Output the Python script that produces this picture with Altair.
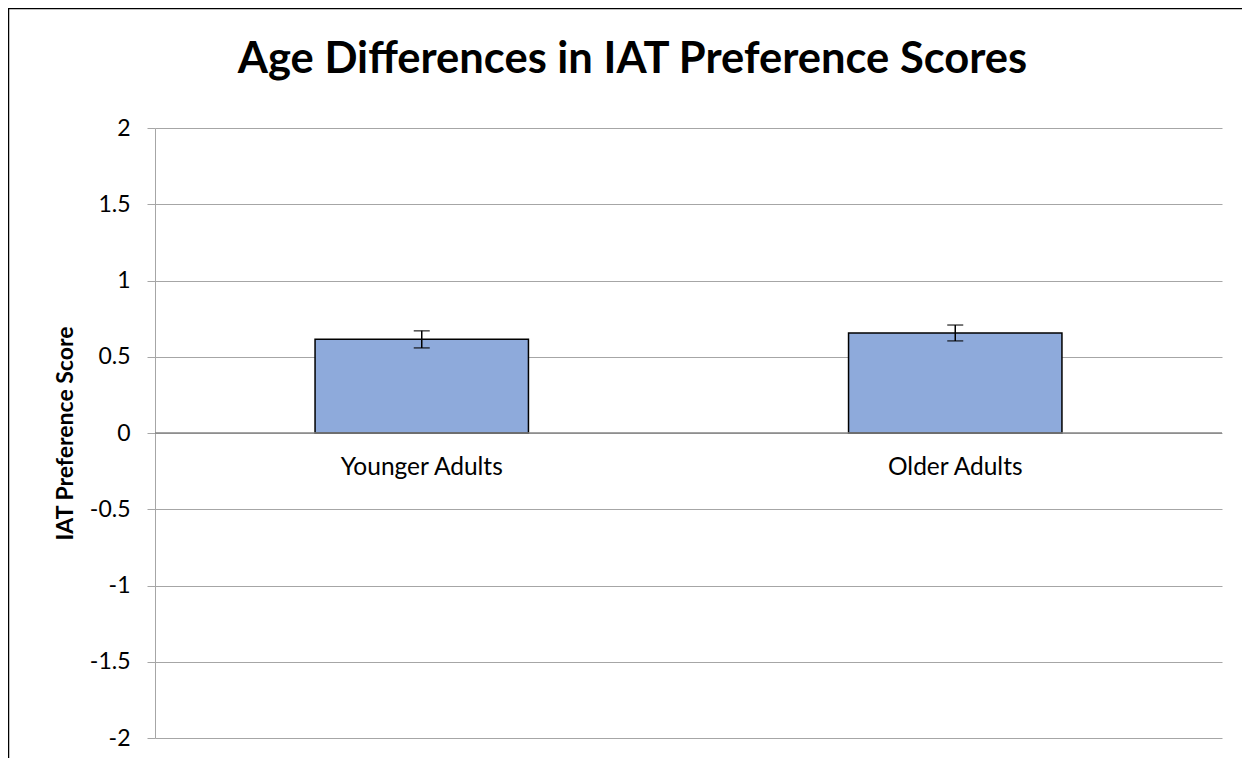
import altair as alt
import pandas as pd

groups = ["Younger Adults", "Older Adults"]
means = [0.614, 0.656]
errors = [0.056, 0.052]
y_ticks = [-2, -1.5, -1, -0.5, 0, 0.5, 1, 1.5, 2]

df = pd.DataFrame({
    "group": groups,
    "mean": means,
    "lo": [m - e for m, e in zip(means, errors)],
    "hi": [m + e for m, e in zip(means, errors)],
})

FONT = "Lato"
W, H = 1067, 610

x_enc = alt.X("group:N", sort=groups, axis=None,
              scale=alt.Scale(paddingInner=0, paddingOuter=0))

base = alt.Chart(df)

bars = base.mark_bar(
    fill="#8EAADB", stroke="black", strokeWidth=1.5,
    width=alt.RelativeBandSize(0.4)
).encode(
    x=x_enc,
    y=alt.Y("mean:Q",
            scale=alt.Scale(domain=[-2, 2], nice=False, zero=False),
            axis=alt.Axis(values=y_ticks, labelExpr="'' + datum.value",
                          title="IAT Preference Score",
                          titleFont=FONT, titleFontSize=23, titleFontWeight="bold",
                          titleColor="black", titleAngle=-90, titleAlign="center",
                          titleBaseline="middle", titleX=-90, titleY=H / 2,
                          labelFont=FONT, labelFontSize=23, labelColor="black",
                          labelPadding=17, tickSize=8, tickColor="#a6a6a6",
                          domainColor="#a6a6a6", gridColor="#a6a6a6",
                          gridWidth=1, grid=True)),
)

zero_rule = alt.Chart(pd.DataFrame({"z": [0]})).mark_rule(
    color="#868686", strokeWidth=1.5
).encode(y=alt.Y("z:Q"))

err_rule = base.mark_rule(color="black", strokeWidth=1.5).encode(
    x=x_enc, y="lo:Q", y2="hi:Q"
)
cap_lo = base.mark_tick(color="black", thickness=1.5, size=16, orient="horizontal").encode(
    x=x_enc, y="lo:Q"
)
cap_hi = base.mark_tick(color="black", thickness=1.5, size=16, orient="horizontal").encode(
    x=x_enc, y="hi:Q"
)

labels = base.mark_text(font=FONT, fontSize=24.5, color="black", baseline="alphabetic",
                        dy=42).encode(
    x=x_enc, y=alt.datum(0), text="group:N"
)

frame = alt.Chart(pd.DataFrame({"a": [0]})).mark_rect(
    filled=False, stroke="black", strokeWidth=1.5
).encode(
    x=alt.value(-146.5), x2=alt.value(W + 200),
    y=alt.value(-119.5), y2=alt.value(H + 300)
)

chart = alt.layer(bars, zero_rule, err_rule, cap_lo, cap_hi, labels, frame).properties(
    width=W, height=H,
    title=alt.TitleParams("Age Differences in IAT Preference Scores",
                          font=FONT, fontSize=43.5, fontWeight="bold", color="black",
                          anchor="middle", frame="group", baseline="alphabetic",
                          offset=0, dy=109, dx=-56),
    autosize=alt.AutoSizeParams(type="none"),
    padding={"left": 147, "top": 120, "right": 20, "bottom": 20},
).configure_view(stroke=None)

chart.save("out.html", embed_options={"renderer": "svg", "actions": False})
